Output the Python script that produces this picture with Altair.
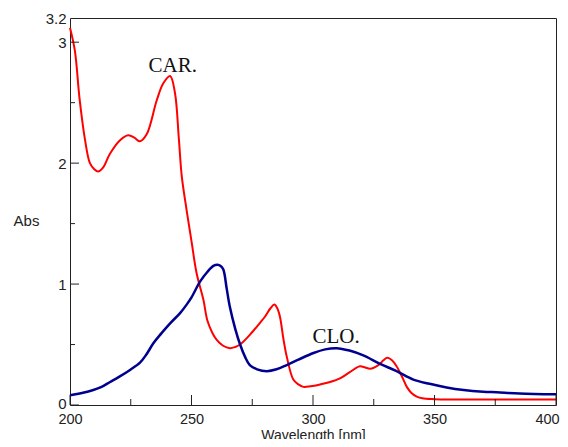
import altair as alt
import pandas as pd

# CAR. spectrum (red)
car_wl = [200, 202, 204, 206.2, 208.2, 210, 211.5, 213.5, 216.5, 220.6, 224, 226.5, 228.8,
          231.6, 235.7, 238.4, 241.2, 243.2, 244.8, 246.0, 248.0, 250.1, 252.1, 254.9, 256.5,
          258.5, 260.3, 263, 265.8, 268, 270, 274, 278.2, 280.2, 282.5, 284.1, 285.3, 286.4,
          287.8, 289.2, 291.9, 294, 296, 299, 302.9, 307, 311.1, 315, 319.3, 321.5, 323.5,
          326.9, 329, 330.6, 332.5, 334.4, 336.5, 338.6, 340.5, 342.7, 345, 350, 360, 380, 400]
car_abs = [3.12, 2.93, 2.52, 2.19, 2.00, 1.95, 1.93, 1.96, 2.08, 2.19, 2.23, 2.21, 2.18,
           2.24, 2.52, 2.66, 2.72, 2.58, 2.20, 1.89, 1.61, 1.34, 1.09, 0.87, 0.70,
           0.60, 0.54, 0.49, 0.47, 0.48, 0.50, 0.58, 0.68, 0.73, 0.80, 0.83, 0.80, 0.73,
           0.55, 0.40, 0.21, 0.17, 0.15, 0.155, 0.17, 0.19, 0.22, 0.27, 0.32, 0.31, 0.30,
           0.33, 0.37, 0.39, 0.37, 0.32, 0.24, 0.15, 0.10, 0.07, 0.055, 0.048, 0.046, 0.045, 0.045]

# CLO. spectrum (blue)
clo_wl = [200, 204, 209.6, 213, 216.5, 220, 224.7, 228.8, 231.5, 234.3, 237.5, 241.2, 245.3,
          248, 250, 253.5, 256.5, 259, 260.7, 262, 263.1, 264.5, 265.8, 268, 270, 272, 274,
          277, 281, 285, 289.2, 294, 300.2, 305, 309.7, 315, 320.7, 327.6, 334.4, 341.3,
          348, 355, 362, 370, 375.6, 385, 400]
clo_abs = [0.08, 0.095, 0.124, 0.15, 0.19, 0.23, 0.29, 0.35, 0.42, 0.51, 0.59, 0.675, 0.76,
           0.83, 0.89, 1.02, 1.10, 1.15, 1.16, 1.15, 1.12, 0.96, 0.81, 0.63, 0.50, 0.40, 0.33,
           0.295, 0.28, 0.295, 0.33, 0.375, 0.43, 0.46, 0.47, 0.45, 0.41, 0.34, 0.28, 0.21,
           0.175, 0.145, 0.124, 0.11, 0.105, 0.095, 0.088]

x_major = [200, 250, 300, 350, 400]
x_minor = [225, 275, 325, 375]
y_major = [0, 1, 2, 3]
y_minor = [0.5, 1.5, 2.5]
y_labels = [0, 1, 2, 3, 3.2]

ann_text = ["CAR.", "CLO."]
ann_x = [242.3, 309.5]
ann_y = [2.75, 0.51]

W, H = 486, 387
INK = "#222222"
SANS = "Liberation Sans"

xs = alt.Scale(domain=[200, 400], nice=False, zero=False)
ys = alt.Scale(domain=[0, 3.2], nice=False, zero=False)

x_axis = alt.Axis(values=x_major, title="Wavelength [nm]", ticks=False, domain=False,
                  grid=False, labelFlush=False, labelPadding=7, labelFontSize=14.5,
                  labelOffset=alt.ExprRef("datum.value == 400 ? -9 : 0"),
                  labelFont=SANS, labelColor=INK, titleFont=SANS, titleFontSize=14,
                  titleFontWeight="normal", titleColor=INK, titleY=23, titleBaseline="top")
y_axis = alt.Axis(values=y_labels, format=".1~f", title="Abs", ticks=False, domain=False,
                  grid=False, labelPadding=4, labelFontSize=15, labelFont=SANS,
                  labelOffset=alt.ExprRef("datum.value == 0 ? -2 : 0"),
                  labelColor=INK, titleFont=SANS, titleFontSize=15, titleFontWeight="normal",
                  titleColor=INK, titleAngle=0, titleX=-44, titleY=202,
                  titleAlign="center", titleBaseline="middle")

X = alt.X("wl:Q", scale=xs, axis=x_axis)
Y = alt.Y("abs:Q", scale=ys, axis=y_axis)

car = pd.DataFrame({"wl": car_wl, "abs": car_abs})
clo = pd.DataFrame({"wl": clo_wl, "abs": clo_abs})

red = alt.Chart(car).mark_line(color="#FF0000", strokeWidth=2, interpolate="catmull-rom").encode(x=X, y=Y)
blue = alt.Chart(clo).mark_line(color="#000090", strokeWidth=2.5, interpolate="catmull-rom").encode(x=X, y=Y)

xt_major = alt.Chart(pd.DataFrame({"wl": x_major})).mark_rule(color=INK, strokeWidth=1).encode(
    x=X, y=alt.value(H), y2=alt.value(H - 10))
xt_minor = alt.Chart(pd.DataFrame({"wl": x_minor})).mark_rule(color=INK, strokeWidth=1).encode(
    x=X, y=alt.value(H), y2=alt.value(H - 6))
yt_major = alt.Chart(pd.DataFrame({"abs": y_major})).mark_rule(color=INK, strokeWidth=1).encode(
    y=Y, x=alt.value(0), x2=alt.value(9))
yt_minor = alt.Chart(pd.DataFrame({"abs": y_minor})).mark_rule(color=INK, strokeWidth=1).encode(
    y=Y, x=alt.value(0), x2=alt.value(5))

ann = alt.Chart(pd.DataFrame({"t": ann_text, "wl": ann_x, "abs": ann_y})).mark_text(
    font="Liberation Serif", fontSize=21, align="center", baseline="alphabetic", color="#111111"
).encode(x=X, y=Y, text="t:N")

chart = alt.layer(red, blue, xt_major, xt_minor, yt_major, yt_minor, ann).properties(
    width=W, height=H,
    padding={"left": 62, "top": 10, "right": 4, "bottom": 34},
    autosize=alt.AutoSizeParams(type="none"),
).configure_view(stroke=INK, strokeWidth=1)

chart.save("out.html", embed_options={"renderer": "svg", "actions": False})
